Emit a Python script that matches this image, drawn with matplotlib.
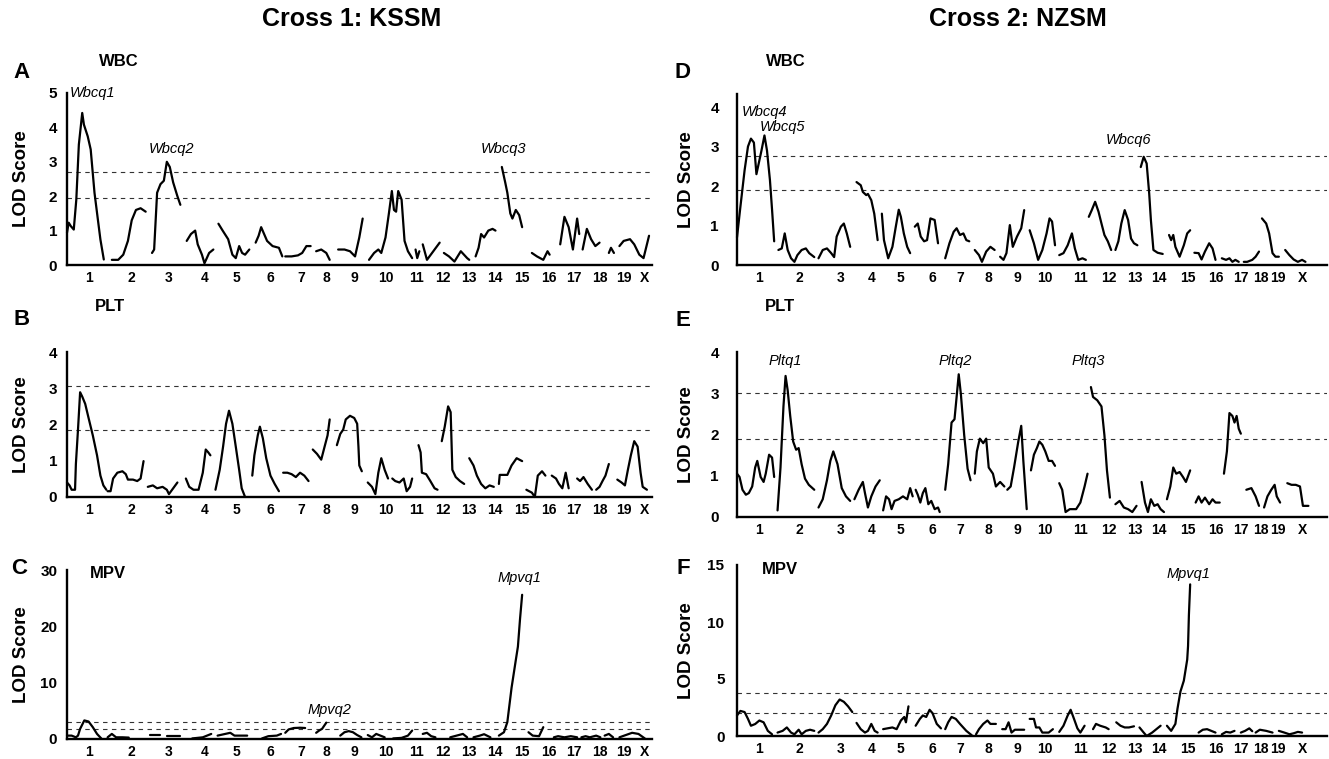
import matplotlib
matplotlib.use('Agg')
import matplotlib.pyplot as plt
from matplotlib import font_manager as fm


def has_font(name):
    try:
        fm.findfont(fm.FontProperties(family=name), fallback_to_default=False)
        return True
    except Exception:
        return False


SANS = 'Liberation Sans' if has_font('Liberation Sans') else 'DejaVu Sans'
NARROW = 'Liberation Sans Narrow' if has_font('Liberation Sans Narrow') else SANS

# ---------------------------------------------------------------- data
chrom_labels = ['1', '2', '3', '4', '5', '6', '7', '8', '9', '10', '11', '12',
                '13', '14', '15', '16', '17', '18', '19', 'X']

# map positions of chromosome labels (genome-wide map units)
cross1_ticks = [210, 312, 400, 484, 560, 640, 712, 773, 838, 912, 985, 1047,
                1110, 1170, 1235, 1298, 1358, 1418, 1475, 1525]
cross2_ticks = [225, 320, 418, 490, 560, 635, 700, 768, 835, 900, 985, 1053,
                1115, 1170, 1240, 1305, 1365, 1413, 1453, 1510]
cross1_range = [159, 1542]
cross2_range = [172, 1569]

# ---- Panel A: Cross 1 WBC
A_pos = [[159, 163, 168, 175, 181, 187, 195, 199, 208, 215, 224, 232, 238, 246],
         [265, 280, 292, 303, 312, 322, 333, 345],
         [360, 365, 372, 380, 388, 395, 402, 410, 420, 427],
         [442, 452, 462, 468, 478, 484, 495, 505],
         [517, 527, 540, 550, 558, 566, 573, 580, 590],
         [605, 612, 618, 625, 632, 645, 660, 668],
         [675, 690, 705, 715, 725, 735],
         [748, 760, 772, 780],
         [800, 815, 828, 840, 850, 858],
         [873, 885, 895, 902, 912, 920, 927, 932, 937, 942, 950, 957, 965, 975],
         [983, 987, 992],
         [1000, 1010, 1025, 1040],
         [1050, 1062, 1075, 1090, 1105, 1110],
         [1125, 1132, 1138, 1145, 1155, 1165, 1172],
         [1187, 1195, 1200, 1207, 1212, 1220, 1228, 1235],
         [1258, 1270, 1285, 1295, 1300],
         [1325, 1335, 1345, 1355, 1365, 1370],
         [1378, 1388, 1398, 1408, 1418],
         [1440, 1445, 1452],
         [1465, 1475, 1490, 1500, 1512, 1522, 1530, 1535]]
A_lod = [[0.94, 1.23, 1.13, 1.03, 1.9, 3.5, 4.42, 4.08, 3.74, 3.36, 2.1, 1.32, 0.74, 0.16],
         [0.15, 0.15, 0.3, 0.7, 1.3, 1.6, 1.65, 1.55],
         [0.35, 0.45, 2.1, 2.35, 2.45, 3.0, 2.85, 2.4, 2.0, 1.75],
         [0.7, 0.9, 1.0, 0.6, 0.3, 0.05, 0.35, 0.45],
         [1.2, 1.0, 0.75, 0.3, 0.2, 0.55, 0.35, 0.3, 0.45],
         [0.65, 0.85, 1.1, 0.9, 0.7, 0.55, 0.5, 0.25],
         [0.25, 0.25, 0.28, 0.35, 0.55, 0.55],
         [0.4, 0.45, 0.35, 0.15],
         [0.45, 0.45, 0.4, 0.25, 0.8, 1.35],
         [0.15, 0.35, 0.45, 0.35, 0.8, 1.5, 2.15, 1.6, 1.55, 2.15, 1.9, 0.7, 0.4, 0.2],
         [0.45, 0.2, 0.4],
         [0.6, 0.15, 0.4, 0.65],
         [0.35, 0.25, 0.1, 0.4, 0.2, 0.15],
         [0.25, 0.5, 0.9, 0.8, 1.0, 1.05, 1.0],
         [2.85, 2.4, 2.1, 1.5, 1.35, 1.6, 1.45, 1.1],
         [0.35, 0.25, 0.15, 0.4, 0.3],
         [0.6, 1.4, 1.1, 0.45, 1.35, 0.9],
         [0.45, 1.05, 0.75, 0.55, 0.65],
         [0.35, 0.5, 0.35],
         [0.55, 0.7, 0.75, 0.6, 0.3, 0.2, 0.6, 0.85]]
A_thresholds = [2.7, 1.95]
A_qtl = ['Wbcq1', 'Wbcq2', 'Wbcq3']
A_qtl_pos = [166, 407, 1190]
A_qtl_lod = [5.0, 3.36, 3.36]

# ---- Panel B: Cross 1 PLT
B_pos = [[159, 165, 170, 178, 180, 185, 190, 195, 202, 210, 220, 230, 238, 245, 252],
         [255, 262, 268, 278, 290, 298, 303, 315, 325, 333, 340],
         [350, 362, 372, 385, 395, 400, 410, 420],
         [440, 448, 458, 470, 480, 487, 493, 498],
         [510, 520, 528, 535, 542, 550, 558, 566, 572, 580],
         [597, 602, 610, 615, 622, 630, 640, 650, 660],
         [670, 680, 690, 700, 710, 720, 730],
         [740, 750, 760, 768, 775, 780],
         [797, 805, 812, 818, 828, 838, 845, 848, 850, 856],
         [870, 880, 888, 895, 902, 910, 918],
         [928, 935, 945, 955, 962, 970, 975],
         [990, 995, 998, 1008, 1018, 1028, 1035],
         [1045, 1052, 1060, 1066, 1070, 1078, 1088, 1098],
         [1110, 1120, 1128, 1138, 1148, 1158, 1168],
         [1180, 1182, 1200, 1210, 1222, 1235],
         [1245, 1258, 1265, 1272, 1282, 1290],
         [1305, 1315, 1322, 1330, 1338, 1345],
         [1365, 1372, 1380, 1390, 1400],
         [1410, 1418, 1425, 1432, 1440],
         [1460, 1470, 1478, 1485, 1492, 1500, 1508, 1515, 1520, 1530]]
B_lod = [[0.4, 0.32, 0.2, 0.2, 0.91, 1.86, 2.89, 2.77, 2.57, 2.18, 1.7, 1.15, 0.59, 0.32, 0.2],
         [0.16, 0.16, 0.51, 0.67, 0.71, 0.63, 0.48, 0.48, 0.44, 0.51, 0.99],
         [0.28, 0.32, 0.24, 0.28, 0.2, 0.08, 0.24, 0.4],
         [0.51, 0.28, 0.2, 0.2, 0.67, 1.31, 1.23, 1.15],
         [0.2, 0.75, 1.39, 2.02, 2.38, 2.02, 1.39, 0.75, 0.24, 0.0],
         [0.59, 1.15, 1.7, 1.94, 1.62, 1.07, 0.59, 0.36, 0.16],
         [0.67, 0.67, 0.63, 0.55, 0.67, 0.59, 0.44],
         [1.31, 1.19, 1.03, 1.39, 1.7, 2.14],
         [1.43, 1.74, 1.86, 2.14, 2.24, 2.18, 2.02, 1.39, 0.87, 0.71],
         [0.4, 0.28, 0.08, 0.67, 1.07, 0.75, 0.51],
         [0.51, 0.44, 0.4, 0.51, 0.16, 0.28, 0.51],
         [1.43, 1.23, 0.67, 0.63, 0.44, 0.24, 0.2],
         [1.54, 1.94, 2.5, 2.34, 0.75, 0.55, 0.44, 0.36],
         [1.07, 0.87, 0.59, 0.36, 0.24, 0.32, 0.28],
         [0.36, 0.61, 0.61, 0.87, 1.07, 0.99],
         [0.2, 0.12, 0.0, 0.59, 0.71, 0.59],
         [0.59, 0.51, 0.36, 0.24, 0.67, 0.24],
         [0.51, 0.44, 0.55, 0.36, 0.2],
         [0.2, 0.28, 0.44, 0.59, 0.91],
         [0.48, 0.4, 0.32, 0.75, 1.15, 1.54, 1.39, 0.67, 0.28, 0.2]]
B_thresholds = [3.05, 1.85]

# ---- Panel C: Cross 1 MPV
C_pos = [[159, 170, 180, 185, 190, 200, 210, 220, 230, 240],
         [255, 265, 275, 290, 305],
         [355, 380], [395, 425],
         [455, 480, 500],
         [515, 530, 545, 555, 585],
         [620, 635, 655, 665],
         [675, 683, 695, 710, 722],
         [748, 755, 762, 772],
         [805, 815, 825, 835, 845, 855],
         [870, 880, 890, 900, 910],
         [930, 950, 965, 975],
         [1000, 1010, 1020, 1030],
         [1065, 1080, 1095, 1105],
         [1120, 1135, 1145, 1160],
         [1180, 1192, 1200, 1210, 1220, 1225, 1230, 1235],
         [1250, 1260, 1275, 1285],
         [1310, 1320, 1335, 1350, 1365],
         [1375, 1385, 1395, 1410, 1420],
         [1430, 1440, 1450],
         [1465, 1480, 1495, 1510, 1525]]
C_lod = [[0.6, 0.6, 0.3, 0.6, 1.8, 3.3, 3.1, 2.1, 0.9, 0.1],
         [0.3, 0.9, 0.3, 0.3, 0.25],
         [0.7, 0.7], [0.5, 0.5],
         [0.1, 0.3, 0.9],
         [0.6, 0.85, 1.1, 0.6, 0.6],
         [0.1, 0.5, 0.6, 0.9],
         [1.1, 1.7, 1.95, 2.0, 1.95],
         [1.1, 1.5, 1.8, 2.9],
         [0.6, 1.2, 1.4, 1.2, 0.7, 0.3],
         [0.7, 0.3, 0.9, 0.6, 0.3],
         [0.1, 0.2, 0.6, 1.5],
         [0.9, 1.1, 0.5, 0.3],
         [0.3, 0.6, 0.9, 0.3],
         [0.3, 0.6, 0.85, 0.3],
         [0.6, 1.2, 3.0, 9.1, 14.0, 16.4, 21.3, 25.6],
         [1.2, 0.6, 0.5, 2.1],
         [0.3, 0.5, 0.3, 0.5, 0.3],
         [0.3, 0.5, 0.3, 0.6, 0.3],
         [0.6, 0.9, 0.3],
         [0.3, 0.7, 1.1, 0.9, 0.1]]
C_thresholds = [3.0, 1.75]
C_qtl = ['Mpvq1', 'Mpvq2']
C_qtl_pos = [1228, 780]
C_qtl_lod = [28.6, 5.2]

# ---- Panel D: Cross 2 WBC
D_pos = [[172, 180, 190, 198, 205, 212, 218, 222, 230, 237, 243, 250, 255, 260],
         [270, 278, 285, 292, 300, 308, 315, 325, 335, 343, 355],
         [365, 375, 385, 395, 402, 408, 418, 425, 432, 440],
         [455, 465, 470, 478, 482, 490, 497, 505],
         [515, 520, 530, 540, 548, 555, 560, 567, 575, 582],
         [593, 600, 607, 615, 622, 630, 640, 648],
         [665, 675, 685, 692, 700, 708, 715, 722],
         [735, 745, 752, 762, 772, 782],
         [795, 803, 810, 818, 825, 835, 845, 852],
         [865, 875, 885, 895, 905, 912, 918, 925],
         [935, 945, 955, 965, 972, 980, 990, 998],
         [1005, 1012, 1020, 1028, 1035, 1042, 1050, 1058],
         [1068, 1075, 1082, 1090, 1098, 1105, 1112, 1120],
         [1128, 1135, 1142, 1148, 1152, 1158, 1168, 1180],
         [1195, 1200, 1205, 1210, 1220, 1230, 1238, 1245],
         [1255, 1265, 1272, 1280, 1290, 1298, 1305],
         [1320, 1330, 1338, 1345, 1352, 1360],
         [1372, 1380, 1392, 1400, 1408],
         [1415, 1425, 1432, 1440, 1447, 1455],
         [1470, 1480, 1490, 1500, 1510, 1518]]
D_lod = [[0.7, 1.47, 2.4, 3.0, 3.2, 3.1, 2.3, 2.5, 2.9, 3.28, 2.9, 2.15, 1.4, 0.6],
         [0.38, 0.42, 0.8, 0.38, 0.17, 0.08, 0.25, 0.38, 0.42, 0.3, 0.2],
         [0.17, 0.38, 0.42, 0.3, 0.2, 0.72, 0.97, 1.05, 0.8, 0.46],
         [2.1, 2.02, 1.85, 1.77, 1.8, 1.64, 1.3, 0.63],
         [1.3, 0.63, 0.17, 0.46, 0.97, 1.4, 1.22, 0.8, 0.46, 0.3],
         [0.97, 1.05, 0.72, 0.6, 0.63, 1.18, 1.14, 0.55],
         [0.17, 0.55, 0.84, 0.93, 0.76, 0.8, 0.63, 0.6],
         [0.38, 0.25, 0.08, 0.34, 0.46, 0.38],
         [0.21, 0.13, 0.3, 1.01, 0.46, 0.72, 0.93, 1.39],
         [0.88, 0.55, 0.13, 0.38, 0.8, 1.18, 1.1, 0.5],
         [0.25, 0.3, 0.5, 0.8, 0.42, 0.13, 0.17, 0.13],
         [1.22, 1.39, 1.6, 1.35, 1.05, 0.76, 0.6, 0.38],
         [0.38, 0.6, 1.05, 1.39, 1.14, 0.67, 0.55, 0.5],
         [2.48, 2.74, 2.57, 1.81, 1.14, 0.38, 0.31, 0.28],
         [0.76, 0.63, 0.76, 0.46, 0.21, 0.5, 0.8, 0.88],
         [0.31, 0.3, 0.14, 0.34, 0.55, 0.42, 0.13],
         [0.17, 0.13, 0.17, 0.08, 0.13, 0.08],
         [0.08, 0.08, 0.13, 0.21, 0.34],
         [1.18, 1.05, 0.8, 0.3, 0.21, 0.21],
         [0.38, 0.25, 0.14, 0.08, 0.13, 0.08]]
D_thresholds = [2.75, 1.9]
D_qtl = ['Wbcq4', 'Wbcq5', 'Wbcq6']
D_qtl_pos = [183, 225, 1100]
D_qtl_lod = [3.87, 3.49, 3.16]

# ---- Panel E: Cross 2 PLT
E_pos = [[172, 178, 185, 193, 200, 208, 215, 220, 228, 235, 240, 248, 255, 260],
         [268, 275, 282, 287, 292, 298, 305, 312, 318, 325, 333, 342, 355],
         [365, 375, 385, 393, 400, 410, 420, 430, 440],
         [450, 460, 470, 475, 482, 490, 500, 510],
         [518, 525, 532, 538, 545, 555, 565, 575, 582, 588],
         [595, 600, 606, 612, 618, 625, 632, 640, 648, 652],
         [665, 672, 680, 687, 692, 697, 702, 710, 718, 725],
         [735, 740, 747, 755, 762, 768, 778, 785, 795, 805],
         [812, 820, 828, 838, 845, 850, 858],
         [868, 875, 882, 888, 895, 902, 910, 918, 925],
         [935, 942, 950, 960, 975, 985, 995, 1002],
         [1010, 1015, 1025, 1035, 1042, 1048, 1055],
         [1068, 1078, 1088, 1098, 1108, 1118],
         [1130, 1138, 1145, 1152, 1160, 1168, 1175, 1183],
         [1190, 1198, 1205, 1212, 1220, 1228, 1235, 1245],
         [1258, 1265, 1272, 1280, 1290, 1298, 1305, 1315],
         [1325, 1332, 1338, 1345, 1350, 1355, 1360, 1365],
         [1378, 1390, 1400, 1408],
         [1420, 1428, 1437, 1445, 1450, 1458],
         [1475, 1485, 1495, 1505, 1512, 1525]]
E_lod = [[1.05, 0.97, 0.66, 0.54, 0.58, 0.74, 1.2, 1.36, 0.97, 0.85, 1.05, 1.51, 1.44, 0.97],
         [0.16, 1.2, 2.68, 3.42, 3.07, 2.45, 1.83, 1.63, 1.67, 1.28, 0.93, 0.78, 0.66],
         [0.23, 0.43, 0.89, 1.36, 1.59, 1.28, 0.7, 0.5, 0.39],
         [0.43, 0.66, 0.85, 0.58, 0.23, 0.5, 0.74, 0.89],
         [0.16, 0.5, 0.43, 0.19, 0.39, 0.43, 0.5, 0.43, 0.7, 0.5],
         [0.66, 0.54, 0.35, 0.58, 0.7, 0.31, 0.39, 0.19, 0.23, 0.12],
         [0.66, 1.28, 2.29, 2.37, 2.91, 3.46, 2.99, 1.98, 1.17, 0.89],
         [1.05, 1.59, 1.9, 1.79, 1.9, 1.2, 1.05, 0.74, 0.85, 0.74],
         [0.66, 0.74, 1.2, 1.83, 2.21, 1.36, 0.19],
         [1.13, 1.51, 1.67, 1.83, 1.75, 1.59, 1.36, 1.36, 1.24],
         [0.82, 0.66, 0.12, 0.19, 0.19, 0.35, 0.74, 1.05],
         [3.15, 2.91, 2.83, 2.68, 1.98, 1.13, 0.47],
         [0.31, 0.39, 0.23, 0.19, 0.12, 0.27],
         [0.85, 0.35, 0.12, 0.43, 0.27, 0.31, 0.19, 0.12],
         [0.43, 0.74, 1.2, 1.05, 1.09, 0.97, 0.85, 1.13],
         [0.35, 0.5, 0.35, 0.47, 0.31, 0.43, 0.35, 0.35],
         [1.05, 1.59, 2.52, 2.45, 2.29, 2.45, 2.14, 2.02],
         [0.66, 0.7, 0.5, 0.27],
         [0.23, 0.5, 0.66, 0.78, 0.5, 0.35],
         [0.82, 0.78, 0.78, 0.74, 0.27, 0.27]]
E_thresholds = [3.0, 1.9]
E_qtl = ['Pltq1', 'Pltq2', 'Pltq3']
E_qtl_pos = [287, 688, 1003]
E_qtl_lod = [3.77, 3.77, 3.77]

# ---- Panel F: Cross 2 MPV
F_pos = [[172, 180, 190, 198, 205, 215, 225, 235, 245, 255],
         [268, 280, 290, 300, 308, 318, 325, 335, 345, 355],
         [365, 375, 385, 395, 405, 415, 425, 435, 445],
         [455, 465, 475, 482, 490, 498, 505],
         [518, 528, 540, 550, 560, 568, 572, 578],
         [595, 605, 612, 620, 628, 635, 645, 655],
         [665, 672, 680, 690, 700, 715, 728],
         [738, 745, 755, 765, 772, 785],
         [800, 808, 815, 822, 830, 840, 852],
         [865, 875, 880, 888, 895, 910, 920],
         [935, 945, 955, 962, 970, 978, 985, 995],
         [1015, 1022, 1032, 1045, 1052],
         [1070, 1080, 1090, 1100, 1112],
         [1125, 1135, 1142, 1155, 1165, 1175],
         [1190, 1200, 1210, 1215, 1222, 1230, 1238, 1240, 1242, 1245],
         [1265, 1275, 1285, 1295, 1305],
         [1320, 1330, 1340, 1350],
         [1365, 1375, 1385, 1392],
         [1400, 1410, 1425, 1440],
         [1455, 1468, 1480, 1490, 1500, 1510]]
F_lod = [[1.8, 2.2, 2.1, 1.5, 0.9, 1.05, 1.36, 1.2, 0.45, 0.15],
         [0.3, 0.45, 0.75, 0.3, 0.15, 0.55, 0.15, 0.45, 0.55, 0.45],
         [0.3, 0.6, 1.06, 1.8, 2.7, 3.2, 3.0, 2.6, 2.1],
         [1.15, 0.6, 0.3, 0.45, 1.06, 0.45, 0.3],
         [0.6, 0.67, 0.75, 0.6, 1.36, 1.67, 1.2, 2.6],
         [0.9, 1.5, 1.8, 1.67, 2.3, 2.0, 1.06, 0.67],
         [0.6, 1.2, 1.67, 1.5, 1.06, 0.45, 0.06],
         [0.15, 0.6, 1.06, 1.36, 1.06, 1.06],
         [0.6, 0.6, 1.2, 0.3, 0.55, 0.55, 0.55],
         [1.5, 1.5, 0.75, 0.75, 0.3, 0.3, 0.6],
         [0.36, 0.9, 1.8, 2.3, 1.5, 0.67, 0.3, 0.9],
         [0.6, 1.06, 0.9, 0.75, 0.6],
         [1.2, 0.9, 0.75, 0.75, 0.85],
         [0.75, 0.3, 0.0, 0.3, 0.6, 0.9],
         [0.9, 0.45, 1.06, 2.4, 3.9, 4.85, 6.7, 7.9, 10.6, 13.3],
         [0.3, 0.55, 0.6, 0.45, 0.3],
         [0.15, 0.36, 0.3, 0.45],
         [0.3, 0.45, 0.67, 0.42],
         [0.3, 0.55, 0.45, 0.3],
         [0.45, 0.3, 0.15, 0.24, 0.36, 0.3]]
F_thresholds = [3.75, 2.0]
F_qtl = ['Mpvq1']
F_qtl_pos = [1240]
F_qtl_lod = [14.2]

# ---------------------------------------------------------------- figure
W, H = 1329, 759
fig = plt.figure(figsize=(W / 100, H / 100), dpi=100)


def add_panel(x0, x1, ybase, ytop, xlim, ylim, yticks, pos, lod, ticks,
              thresholds, ylabel_x, ypad):
    ax = fig.add_axes([x0 / W, 1 - ybase / H, (x1 - x0) / W, (ybase - ytop) / H])
    for t in thresholds:
        ax.axhline(t, color='#333333', lw=0.8, ls=(0, (4, 4)), zorder=1)
    for p, l in zip(pos, lod):
        ax.plot(p, l, color='black', lw=1.6, solid_joinstyle='round',
                solid_capstyle='round', zorder=3, clip_on=False)
    ax.set_xlim(*xlim)
    ax.set_ylim(*ylim)
    ax.set_xticks(ticks)
    ax.set_xticklabels(chrom_labels, fontfamily=NARROW, fontweight='bold',
                       fontsize=10)
    ax.set_yticks(yticks)
    ax.set_yticklabels([str(v) for v in yticks], fontfamily=NARROW,
                       fontweight='bold', fontsize=11)
    ax.tick_params(axis='x', length=0, pad=4)
    ax.tick_params(axis='y', length=0, pad=ypad)
    for s in ['top', 'right']:
        ax.spines[s].set_visible(False)
    for s in ['left', 'bottom']:
        ax.spines[s].set_linewidth(1.7)
        ax.spines[s].set_zorder(4)
    ax.set_ylabel('LOD Score', fontfamily=SANS, fontweight='bold', fontsize=13.5)
    ax.yaxis.set_label_coords(ylabel_x, 0.5)
    ax.patch.set_alpha(0)
    return ax


def qtl_labels(ax, names, xs, ys, ha='center'):
    for n, x, y in zip(names, xs, ys):
        ax.text(x, y, n, style='italic', fontfamily=SANS, fontsize=10.5,
                ha=ha, va='center', clip_on=False)


axA = add_panel(67, 652, 265, 93, cross1_range, (0, 5), [0, 1, 2, 3, 4, 5],
                A_pos, A_lod, cross1_ticks, A_thresholds, -0.063, 7)
qtl_labels(axA, A_qtl[:1], A_qtl_pos[:1], A_qtl_lod[:1], ha='left')
qtl_labels(axA, A_qtl[1:], A_qtl_pos[1:], A_qtl_lod[1:])

axB = add_panel(67, 652, 497, 352, cross1_range, (0, 4), [0, 1, 2, 3, 4],
                B_pos, B_lod, cross1_ticks, B_thresholds, -0.063, 7)

axC = add_panel(67, 652, 739, 570, cross1_range, (0, 30), [0, 10, 20, 30],
                C_pos, C_lod, cross1_ticks, C_thresholds, -0.063, 7)
qtl_labels(axC, C_qtl, C_qtl_pos, C_qtl_lod)

axD = add_panel(737, 1327, 265, 94, cross2_range, (0, 4.33), [0, 1, 2, 3, 4],
                D_pos, D_lod, cross2_ticks, D_thresholds, -0.071, 13)
qtl_labels(axD, D_qtl[:2], D_qtl_pos[:2], D_qtl_lod[:2], ha='left')
qtl_labels(axD, D_qtl[2:], D_qtl_pos[2:], D_qtl_lod[2:])

axE = add_panel(737, 1327, 517, 352, cross2_range, (0, 4), [0, 1, 2, 3, 4],
                E_pos, E_lod, cross2_ticks, E_thresholds, -0.071, 13)
qtl_labels(axE, E_qtl, E_qtl_pos, E_qtl_lod)

axF = add_panel(737, 1327, 736, 565, cross2_range, (0, 15), [0, 5, 10, 15],
                F_pos, F_lod, cross2_ticks, F_thresholds, -0.071, 9)
qtl_labels(axF, F_qtl, F_qtl_pos, F_qtl_lod)


def ftext(x, y, s, **kw):
    fig.text(x / W, 1 - y / H, s, fontfamily=SANS, **kw)


ftext(352, 19, 'Cross 1: KSSM', fontsize=18, fontweight='bold', ha='center', va='center')
ftext(1018, 19, 'Cross 2: NZSM', fontsize=18, fontweight='bold', ha='center', va='center')

for letter, x, y in [('A', 22, 72), ('B', 22, 320), ('C', 19, 569),
                     ('D', 683, 73), ('E', 683, 321), ('F', 683, 569)]:
    ftext(x, y, letter, fontsize=16, fontweight='bold', ha='center', va='center')

for trait, x, y in [('WBC', 99, 62), ('PLT', 95, 307), ('MPV', 90, 573),
                    ('WBC', 766, 62), ('PLT', 765, 307), ('MPV', 762, 570)]:
    ftext(x, y, trait, fontsize=12, fontweight='bold', ha='left', va='center')

fig.savefig('out.png', dpi=100)
